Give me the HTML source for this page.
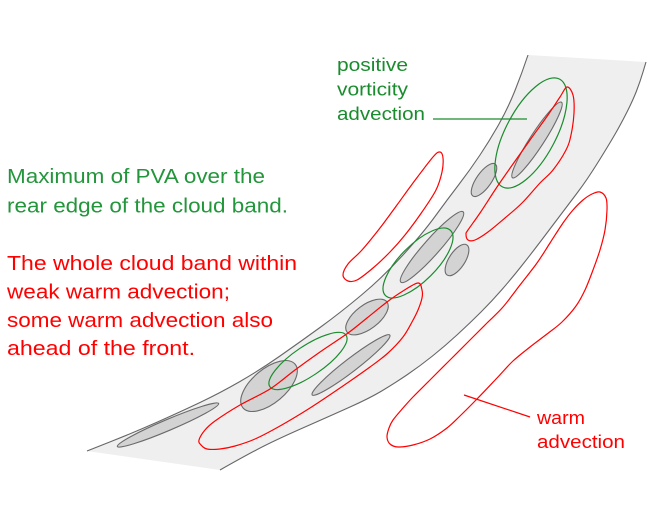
<!DOCTYPE html>
<html><head><meta charset="utf-8"><style>
html,body{margin:0;padding:0;background:#fff;}
svg{display:block;}
</style></head><body>
<svg id="dg" width="650" height="524" viewBox="0 0 650 524" xmlns="http://www.w3.org/2000/svg">
<rect width="650" height="524" fill="#fff"/>
<!-- band fill -->
<path d="M87,451 L111,441.5 Q135,432 157.5,422 Q180,412 200,402.5 Q220,393 240,381.5 Q260,370 280,356 Q300,342 320,327.5 Q340,313 361.5,295 Q383,277 403,255 Q423,233 435,216.5 Q447,200 458.5,185 Q470,170 480,155 Q490,140 499,124 Q508,108 515,90.5 Q522,73 528,55 L646,62 L643,72 Q640,82 636.5,91 Q633,100 627.5,111 Q622,122 616,132.5 Q610,143 598.5,161.5 Q587,180 577.5,192.5 Q568,205 559,217 Q550,229 540.5,241.5 Q531,254 521.5,266 Q512,278 502,289.5 Q492,301 481,312 Q470,323 457.5,334.5 Q445,346 432.5,356 Q420,366 407.5,374.5 Q395,383 382.5,390.5 Q370,398 350,407 Q330,416 305,427 Q280,438 265,445.5 Q250,453 220,470 Z" fill="#efefef"/>
<!-- clouds -->
<g fill="#d3d3d3" stroke="#6a6a6a" stroke-width="1.1">
<ellipse cx="537" cy="140" rx="45" ry="7" transform="rotate(-57 537 140)"/>
<ellipse cx="484" cy="180" rx="19.5" ry="7.5" transform="rotate(-55 484 180)"/>
<ellipse cx="432" cy="247" rx="47" ry="8" transform="rotate(-48.5 432 247)"/>
<ellipse cx="457" cy="260" rx="18" ry="8" transform="rotate(-57 457 260)"/>
<ellipse cx="367" cy="317" rx="25" ry="12" transform="rotate(-37 367 317)"/>
<ellipse cx="351" cy="365" rx="49" ry="6.5" transform="rotate(-37.6 351 365)"/>
<ellipse cx="269" cy="386" rx="34" ry="17" transform="rotate(-40 269 386)"/>
<ellipse cx="168" cy="425" rx="55" ry="5.5" transform="rotate(-23 168 425)"/>
</g>
<!-- band edges -->
<g fill="none" stroke="#666" stroke-width="1.1">
<path d="M87,451 L111,441.5 Q135,432 157.5,422 Q180,412 200,402.5 Q220,393 240,381.5 Q260,370 280,356 Q300,342 320,327.5 Q340,313 361.5,295 Q383,277 403,255 Q423,233 435,216.5 Q447,200 458.5,185 Q470,170 480,155 Q490,140 499,124 Q508,108 515,90.5 Q522,73 528,55"/>
<path d="M646,62 L643,72 Q640,82 636.5,91 Q633,100 627.5,111 Q622,122 616,132.5 Q610,143 598.5,161.5 Q587,180 577.5,192.5 Q568,205 559,217 Q550,229 540.5,241.5 Q531,254 521.5,266 Q512,278 502,289.5 Q492,301 481,312 Q470,323 457.5,334.5 Q445,346 432.5,356 Q420,366 407.5,374.5 Q395,383 382.5,390.5 Q370,398 350,407 Q330,416 305,427 Q280,438 265,445.5 Q250,453 220,470"/>
</g>
<!-- green ellipses -->
<g fill="none" stroke="#1a8c2e" stroke-width="1.2">
<ellipse cx="531" cy="133" rx="61" ry="25" transform="rotate(-62 531 133)"/>
<ellipse cx="418" cy="263" rx="46" ry="18" transform="rotate(-45 418 263)"/>
<ellipse cx="308" cy="361" rx="46" ry="15" transform="rotate(-34 308 361)"/>
<line x1="433" y1="119" x2="527" y2="119"/>
</g>
<!-- red loops -->
<g id="redg" fill="none" stroke="#ff0000" stroke-width="1.2" stroke-linejoin="round">
<polygon class="sm" points="440,152 433,157 413,183 397,205 380,228 362,250 348,264 343,275 348,281 357,280 373,268 390,252 405,235 422,212 436,190 442,172 443,158"/>
<polygon class="sm" points="567,87 573,95 574,113 571,135 566,150 553,170 540,183 522,203 505,218 488,232 475,240 468,240 466,234 468,230 480,213 497,187 513,164 530,140 548,115 560,97"/>
<polygon class="sm" points="418,283 422,290 422,298 418,310 412,322 403,337 388,353 370,367 340,388 310,408 280,426 255,439 235,446 220,449 207,449 201,445 199,440 205,430 215,421 240,405 270,389 295,370 320,352 348,333 367,318 387,302 403,291"/>
<polygon class="sm" points="600,192 606,198 607,210 605,230 600,250 593,270 585,290 576,306 562,322 547,334 530,347 513,361 497,378 477,399 460,416 447,428 430,439 413,445 398,447 390,444 387,437 389,428 393,420 403,408 413,397 430,380 450,360 470,340 487,323 503,307 520,285 537,263 550,243 563,223 573,210 583,200 592,194"/>
<line x1="464" y1="395" x2="530" y2="417"/>
</g>
<!-- left texts -->
<g font-family="'Liberation Sans', sans-serif" font-size="20">
<text x="7" y="183" fill="#23963c" textLength="258" lengthAdjust="spacingAndGlyphs">Maximum of PVA over the</text>
<text x="7" y="212.5" fill="#23963c" textLength="281" lengthAdjust="spacingAndGlyphs">rear edge of the cloud band.</text>
<text x="7" y="270" fill="#ff0000" textLength="290" lengthAdjust="spacingAndGlyphs">The whole cloud band within</text>
<text x="7" y="298.5" fill="#ff0000" textLength="223" lengthAdjust="spacingAndGlyphs">weak warm advection;</text>
<text x="7" y="327" fill="#ff0000" textLength="266" lengthAdjust="spacingAndGlyphs">some warm advection also</text>
<text x="7" y="355" fill="#ff0000" textLength="188" lengthAdjust="spacingAndGlyphs">ahead of the front.</text>
</g>
<!-- right labels -->
<g font-family="'Liberation Sans', sans-serif" font-size="18">
<text x="337" y="71" fill="#1a8c2e" textLength="71" lengthAdjust="spacingAndGlyphs">positive</text>
<text x="337" y="95.5" fill="#1a8c2e" textLength="71" lengthAdjust="spacingAndGlyphs">vorticity</text>
<text x="337" y="120" fill="#1a8c2e" textLength="88" lengthAdjust="spacingAndGlyphs">advection</text>
<text x="537" y="424" fill="#ff0000" textLength="48" lengthAdjust="spacingAndGlyphs">warm</text>
<text x="537" y="448" fill="#ff0000" textLength="88" lengthAdjust="spacingAndGlyphs">advection</text>
</g>
</svg>
<script>
(function(){
  try{
    var ns="http://www.w3.org/2000/svg";
    var polys=document.querySelectorAll("polygon.sm");
    for(var k=0;k<polys.length;k++){
      var pg=polys[k];
      var nums=pg.getAttribute("points").trim().split(/[\s,]+/).map(Number);
      var P=[];
      for(var i=0;i<nums.length;i+=2)P.push([nums[i],nums[i+1]]);
      var n=P.length;
      var d="M"+P[0][0]+","+P[0][1];
      for(var i=0;i<n;i++){
        var p0=P[(i-1+n)%n],p1=P[i],p2=P[(i+1)%n],p3=P[(i+2)%n];
        var c1x=p1[0]+(p2[0]-p0[0])/6,c1y=p1[1]+(p2[1]-p0[1])/6;
        var c2x=p2[0]-(p3[0]-p1[0])/6,c2y=p2[1]-(p3[1]-p1[1])/6;
        d+=" C"+c1x.toFixed(2)+","+c1y.toFixed(2)+" "+c2x.toFixed(2)+","+c2y.toFixed(2)+" "+p2[0]+","+p2[1];
      }
      d+=" Z";
      var path=document.createElementNS(ns,"path");
      path.setAttribute("d",d);
      pg.parentNode.replaceChild(path,pg);
    }
  }catch(e){}
})();
</script>
</body></html>
